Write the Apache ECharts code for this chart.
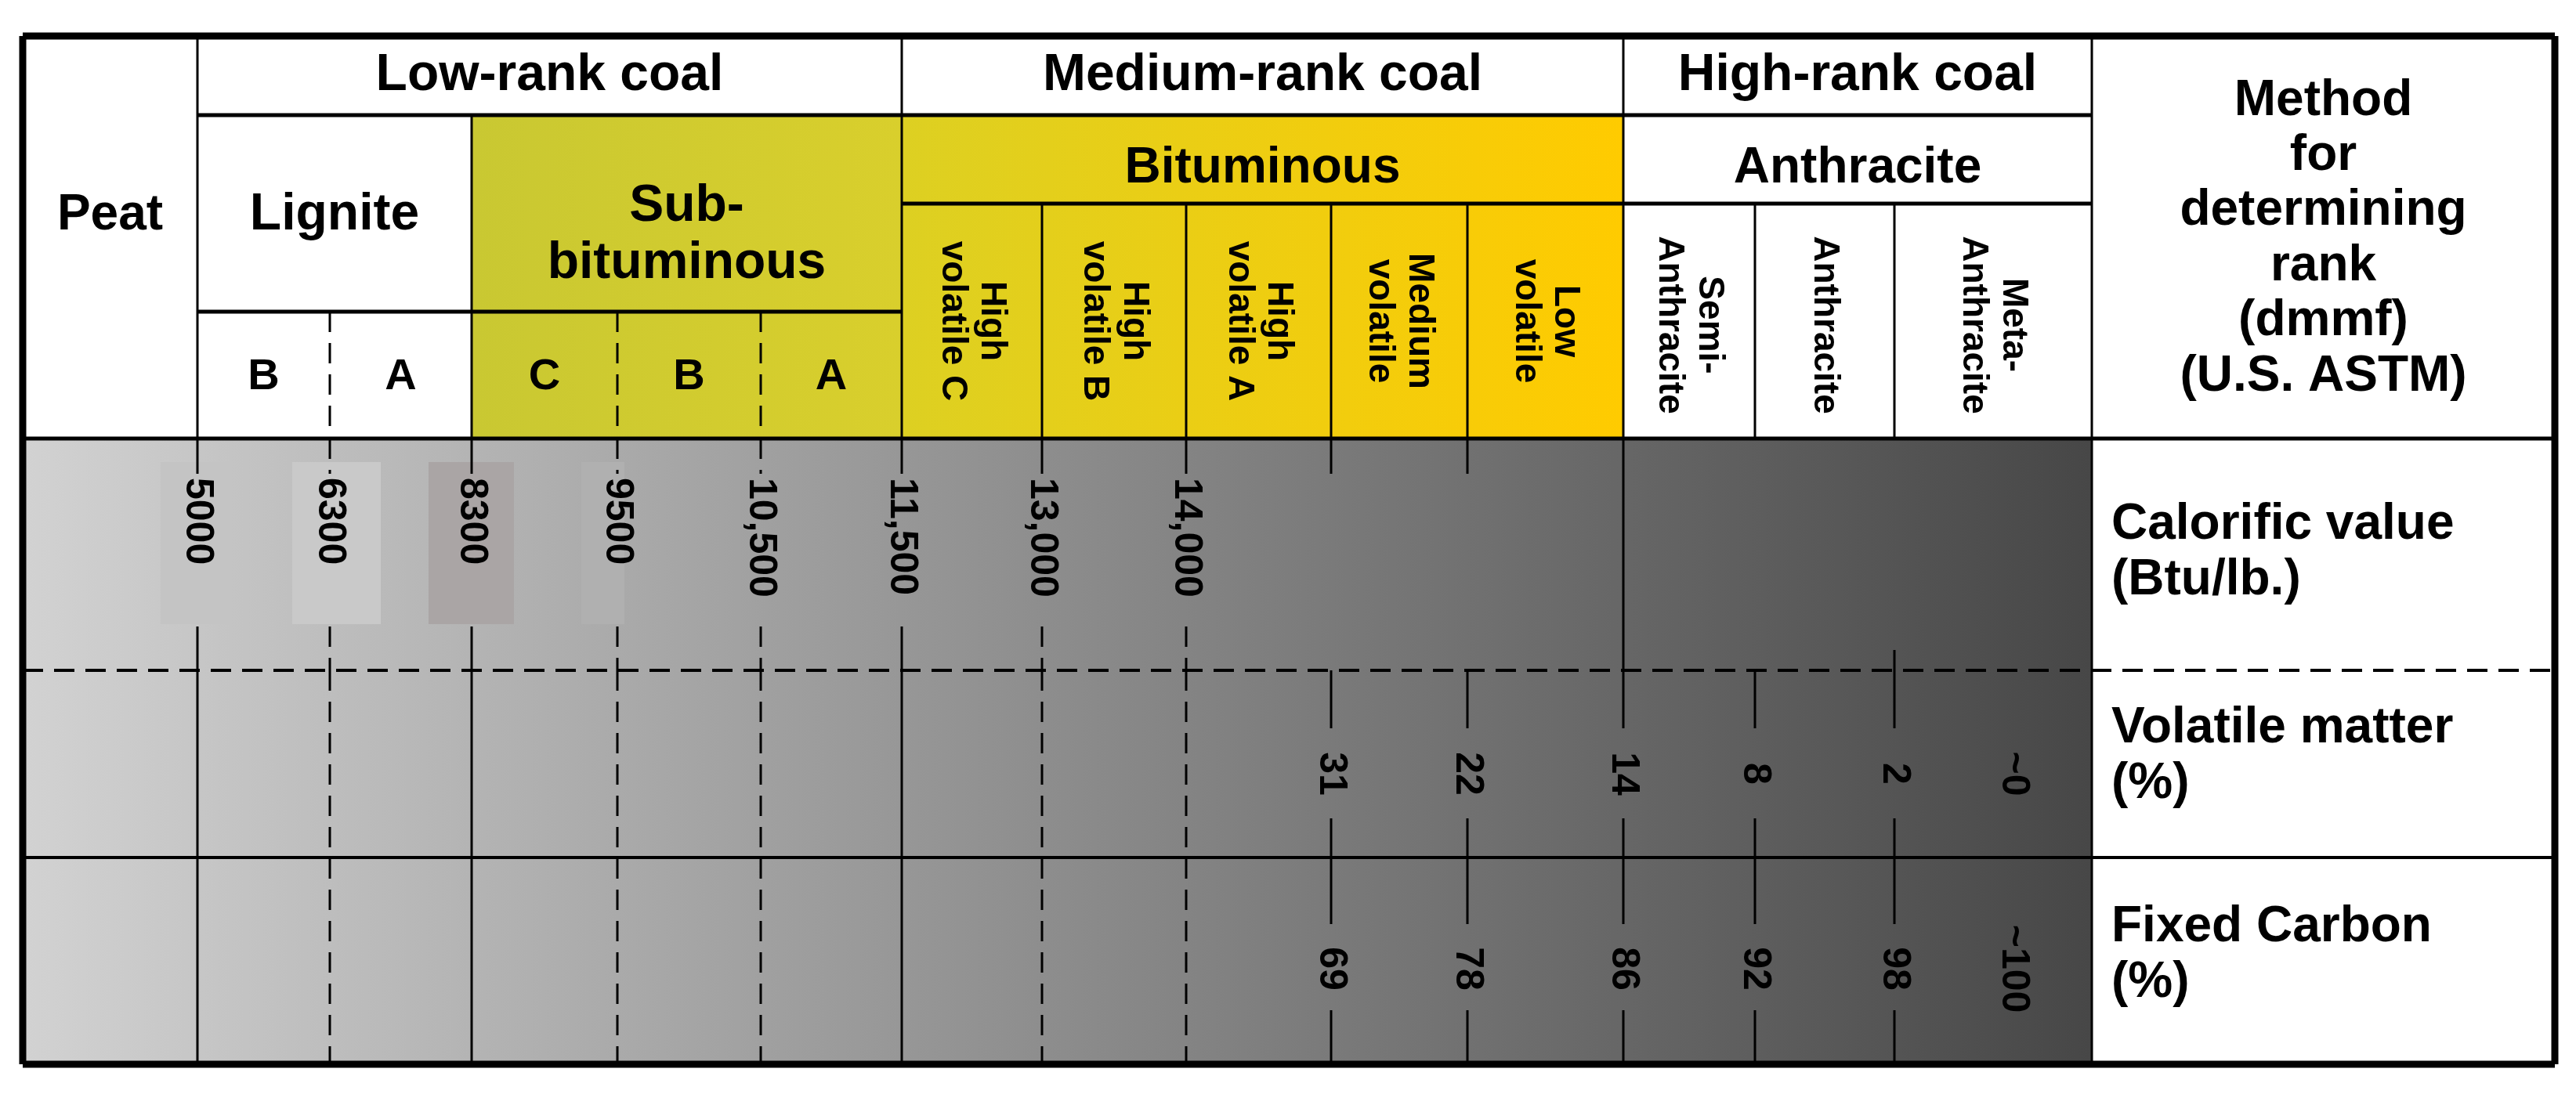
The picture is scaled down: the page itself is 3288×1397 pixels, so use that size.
<!DOCTYPE html>
<html><head><meta charset="utf-8">
<script src="https://cdn.jsdelivr.net/npm/echarts@6/dist/echarts.min.js"></script>
<style>html,body{margin:0;background:#fff}#c{width:3288px;height:1397px}</style>
</head><body><div id="c"></div>
<script>
// column edges (x) and row edges (y) of the table, in picture units
var colX = [29, 252, 421, 602, 788, 971, 1151, 1330, 1514, 1699, 1873, 2072, 2240, 2418, 2670, 3261];
var rowY = [46, 147, 260, 398, 560, 856, 1095, 1359];

var rankGroups = ['Low-rank coal', 'Medium-rank coal', 'High-rank coal'];
var ligniteSub = ['B', 'A'];
var subbitSub = ['C', 'B', 'A'];
var bitSub = ['High\nvolatile C', 'High\nvolatile B', 'High\nvolatile A', 'Medium\nvolatile', 'Low\nvolatile'];
var anthSub = ['Semi-\nAnthracite', 'Anthracite', 'Meta-\nAnthracite'];
var calorific = ['5000', '6300', '8300', '9500', '10,500', '11,500', '13,000', '14,000'];
var volatile = ['31', '22', '14', '8', '2', '~0'];
var fixedCarbon = ['69', '78', '86', '92', '98', '~100'];
var methodRows = ['Calorific value\n(Btu/lb.)', 'Volatile matter\n(%)', 'Fixed Carbon\n(%)'];

var FONT = '"Liberation Sans Narrow","Liberation Sans",Arial,sans-serif';
var FONT2 = '"Liberation Sans",Arial,sans-serif';

var chart = echarts.init(document.getElementById('c'));

var fills = [
  {type: 'linear', x: 0, y: 0, x2: 1, y2: 0, colorStops: [{offset: 0, color: '#d2d2d2'}, {offset: 1, color: '#474747'}]},
  {type: 'linear', x: 0, y: 0, x2: 1, y2: 0, colorStops: [{offset: 0, color: '#c9c832'}, {offset: 1, color: '#d9cf2c'}]},
  {type: 'linear', x: 0, y: 0, x2: 1, y2: 0, colorStops: [{offset: 0, color: '#ddd022'}, {offset: 1, color: '#ffcb00'}]},
  '#c4c4c4', '#c9c9c9', '#aaa5a5', '#b0b0b0'
];
// rectangles: [x0,y0,x1,y1,fillIndex]
var rects = [
  [colX[0], rowY[4], colX[14], rowY[7], 0],
  [colX[3], rowY[1], colX[6], rowY[4], 1],
  [colX[6], rowY[1], colX[11], rowY[4], 2],
  [205, 590, 294, 797, 3],
  [373, 590, 486, 797, 4],
  [547, 590, 656, 797, 5],
  [742, 590, 797, 797, 6]
];

// lines: [x0,y0,x1,y1,width,dashed]
var lines = [];
function L(x0, y0, x1, y1, w, d) { lines.push([x0, y0, x1, y1, w || 3, d ? 1 : 0]); }
L(colX[0], rowY[0], colX[15], rowY[0], 9); L(colX[0], rowY[7], colX[15], rowY[7], 9);
L(colX[0], rowY[0], colX[0], rowY[7], 9); L(colX[15], rowY[0], colX[15], rowY[7], 9);
L(colX[1], rowY[1], colX[14], rowY[1], 5);
L(colX[6], rowY[2], colX[14], rowY[2], 5);
L(colX[1], rowY[3], colX[6], rowY[3], 5);
L(colX[0], rowY[4], colX[15], rowY[4], 5);
L(colX[1], rowY[0], colX[1], rowY[4], 3);
L(colX[6], rowY[0], colX[6], rowY[4], 3);
L(colX[11], rowY[0], colX[11], rowY[4], 3);
L(colX[14], rowY[0], colX[14], rowY[7], 3);
L(colX[3], rowY[1], colX[3], rowY[4], 3);
[2, 4, 5].forEach(function (i) { L(colX[i], rowY[3], colX[i], rowY[4], 3, true); });
[7, 8, 9, 10, 12, 13].forEach(function (i) { L(colX[i], rowY[2], colX[i], rowY[4], 3); });
L(colX[0], rowY[5], colX[15], rowY[5], 4, true);
L(colX[0], rowY[6], colX[15], rowY[6], 4);
for (var i = 1; i <= 10; i++) {
  L(colX[i], rowY[4], colX[i], rowY[4] + 45, 3, i === 2 || i === 4 || i === 5);
  if (i <= 8) L(colX[i], 800, colX[i], rowY[5], 3, !(i === 1 || i === 3 || i === 6));
}
L(colX[11], rowY[4], colX[11], rowY[5], 3);
L(colX[13], 830, colX[13], rowY[5], 3);
[1, 3, 6].forEach(function (i) { L(colX[i], rowY[5], colX[i], rowY[7], 3); });
[2, 4, 5, 7, 8].forEach(function (i) { L(colX[i], rowY[5], colX[i], rowY[7], 3, true); });
[9, 10, 11, 12, 13].forEach(function (i) {
  L(colX[i], rowY[5], colX[i], 930, 3); L(colX[i], 1045, colX[i], 1180, 3); L(colX[i], 1290, colX[i], rowY[7], 3);
});

// texts: [x,y,text,size,rotated,align,font]
var texts = [];
function T(x, y, s, size, rot, align, font) { texts.push([x, y, s, size, rot ? 1 : 0, align || 'center', font || FONT]); }
T((colX[1] + colX[6]) / 2, 97, rankGroups[0], 66);
T((colX[6] + colX[11]) / 2, 97, rankGroups[1], 66);
T((colX[11] + colX[14]) / 2, 97, rankGroups[2], 66);
T((colX[0] + colX[1]) / 2, 275, 'Peat', 64);
T((colX[1] + colX[3]) / 2, 275, 'Lignite', 66);
T((colX[3] + colX[6]) / 2, 300, 'Sub-\nbituminous', 66);
T((colX[6] + colX[11]) / 2, 215, 'Bituminous', 64, false, 'center', FONT2);
T((colX[11] + colX[14]) / 2, 215, 'Anthracite', 64);
ligniteSub.forEach(function (s, k) { T((colX[1 + k] + colX[2 + k]) / 2, 482, s, 56, false, 'center', FONT2); });
subbitSub.forEach(function (s, k) { T((colX[3 + k] + colX[4 + k]) / 2, 482, s, 56, false, 'center', FONT2); });
bitSub.forEach(function (s, k) { T((colX[6 + k] + colX[7 + k]) / 2, 410, s, 46, true, 'center', FONT2); });
anthSub.forEach(function (s, k) { T((colX[11 + k] + colX[12 + k]) / 2, 415, s, 46, true, 'center', FONT2); });
T((colX[14] + colX[15]) / 2, 305, 'Method\nfor\ndetermining\nrank\n(dmmf)\n(U.S. ASTM)', 64);
calorific.forEach(function (s, k) { T(colX[1 + k], 610, s, 50, true, 'left', FONT2); });
var volX = [colX[9], colX[10], colX[11], colX[12], colX[13], 2570];
volatile.forEach(function (s, k) { T(volX[k], 988, s, 50, true, 'center', FONT2); });
fixedCarbon.forEach(function (s, k) { T(volX[k], 1237, s, 50, true, 'center', FONT2); });
T(colX[14] + 25, 706, methodRows[0], 64, false, 'left');
T(colX[14] + 25, 966, methodRows[1], 64, false, 'left');
T(colX[14] + 25, 1220, methodRows[2], 64, false, 'left');

chart.setOption({
  animation: false,
  grid: {left: 0, right: 0, top: 0, bottom: 0},
  xAxis: {type: 'value', min: 0, max: 3288, show: false},
  yAxis: {type: 'value', min: 0, max: 1397, inverse: true, show: false},
  series: [
    {
      type: 'custom', data: rects,
      renderItem: function (p, api) {
        var a = api.coord([api.value(0), api.value(1)]), b = api.coord([api.value(2), api.value(3)]);
        return {type: 'rect', shape: {x: a[0], y: a[1], width: b[0] - a[0], height: b[1] - a[1]},
          style: {fill: fills[api.value(4)]}};
      }
    },
    {
      type: 'custom', data: lines, z: 3,
      renderItem: function (p, api) {
        var a = api.coord([api.value(0), api.value(1)]), b = api.coord([api.value(2), api.value(3)]);
        return {type: 'line', shape: {x1: a[0], y1: a[1], x2: b[0], y2: b[1]},
          style: {stroke: '#000', lineWidth: api.value(4), lineDash: api.value(5) ? [26, 14] : null}};
      }
    },
    {
      type: 'custom', data: texts, z: 4,
      renderItem: function (p, api) {
        var d = texts[p.dataIndex];
        var a = api.coord([d[0], d[1]]);
        return {type: 'text', x: a[0], y: a[1], rotation: d[4] ? -Math.PI / 2 : 0,
          style: {text: d[2], fontSize: d[3], fontWeight: 'bold', fontFamily: d[6], fill: '#000',
            align: d[5], verticalAlign: 'middle', lineHeight: d[3] * 1.1}};
      }
    }
  ]
});
</script></body></html>
